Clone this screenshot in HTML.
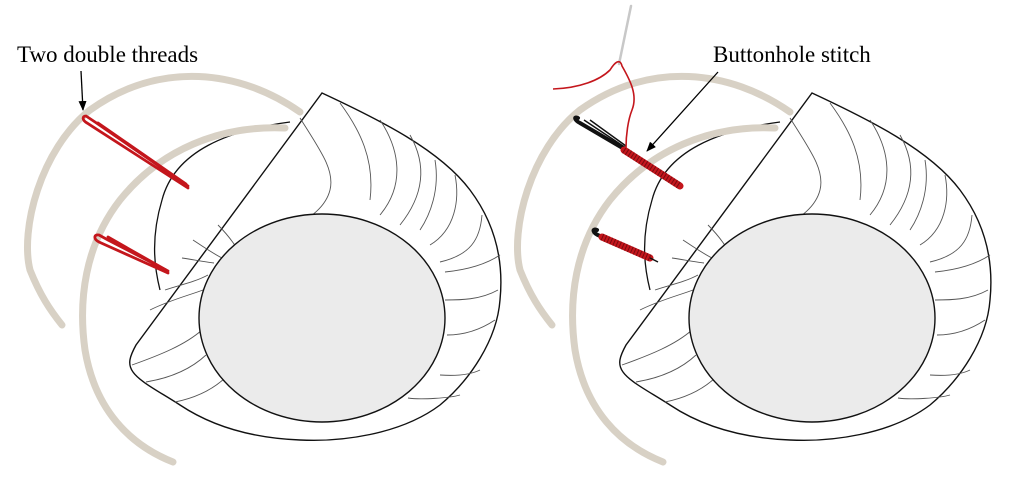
<!DOCTYPE html>
<html><head><meta charset="utf-8"><style>
html,body{margin:0;padding:0;background:#fff;}
svg{display:block;}
text{font-family:"Liberation Serif",serif;font-size:23px;fill:#000;}
</style></head><body>
<svg width="1024" height="496" viewBox="0 0 1024 496" xmlns="http://www.w3.org/2000/svg">
<defs>
<marker id="ah" markerWidth="10" markerHeight="10" refX="9" refY="5" orient="auto" markerUnits="userSpaceOnUse">
<path d="M0,1 L10,5 L0,9 Z" fill="#000"/></marker>
<g id="fig">
  <path d="M290,122 C230,130 175,150 162,200 C150,240 155,270 160,290" fill="#fff" stroke="#111" stroke-width="1.3"/>
  <path d="M300,112 C240,70 160,60 90,110 C40,150 20,230 30,270 C40,295 50,310 62,325" fill="none" stroke="#d8d1c5" stroke-width="7" stroke-linecap="round"/>
  <path d="M285,128 C220,125 160,150 120,200 C85,245 78,300 85,350 C95,410 130,445 173,462" fill="none" stroke="#d8d1c5" stroke-width="7" stroke-linecap="round"/>
  <path d="M322,93 C380,120 440,150 470,190 C500,230 503,270 500,300 C497,340 470,380 440,405 C400,435 340,442 300,440 C250,438 210,425 180,405 C160,392 140,382 133,372 C127,364 130,356 136,345 L322,93 Z" fill="#fff" stroke="#111" stroke-width="1.4"/>
  <g fill="none" stroke="#555" stroke-width="0.9">
    <path d="M300,118 C320,150 335,170 330,190 C325,210 305,220 290,230"/>
    <path d="M340,103 C360,130 375,160 370,200"/>
    <path d="M380,120 C400,150 405,185 380,215"/>
    <path d="M410,135 C430,170 420,200 400,225"/>
    <path d="M435,160 C440,190 430,215 420,230"/>
    <path d="M455,175 C460,200 455,230 430,245"/>
    <path d="M482,215 C480,240 470,255 440,262"/>
    <path d="M500,255 C485,265 465,270 445,272"/>
    <path d="M498,290 C480,300 460,300 445,300"/>
    <path d="M495,320 C480,330 465,335 447,335"/>
    <path d="M480,370 C470,375 455,376 440,375"/>
    <path d="M460,395 C450,398 420,400 408,398"/>
    <path d="M218,225 C228,235 240,250 243,262"/>
    <path d="M193,240 C205,248 215,255 226,260"/>
    <path d="M182,258 C195,260 205,262 214,263"/>
    <path d="M165,290 C180,285 195,282 208,275"/>
    <path d="M150,310 C170,300 190,295 203,290"/>
    <path d="M132,365 C160,355 185,345 202,330"/>
    <path d="M146,382 C170,378 190,370 206,355"/>
    <path d="M175,402 C195,398 212,390 225,378"/>
  </g>
  <ellipse cx="322" cy="318" rx="123" ry="104" fill="#ebebeb" stroke="#111" stroke-width="1.4"/>
</g>
</defs>

<use href="#fig"/>
<use href="#fig" transform="translate(490,0)"/>

<g fill="none" stroke="#c4161c" stroke-width="2.8" stroke-linecap="round">
  <path d="M188,188 L87,123 C82,120 82,116 86,116 L95,122 L188,186"/>
  <path d="M186,184 L98,123"/>
  <path d="M168,273 L99,242 C93,239 94,234 99,235 L108,240 L168,271"/>
  <path d="M166,270 L108,237"/>
</g>

<path d="M626,150 L580,123 C574,120 574,116 578,118" fill="none" stroke="#111" stroke-width="4" stroke-linecap="round"/>
<path d="M626,148 L584,120 M626,146 L590,120" fill="none" stroke="#111" stroke-width="1.5"/>
<path d="M624,150 L680,186" fill="none" stroke="#c4161c" stroke-width="7" stroke-linecap="round"/>
<path d="M624,150 L680,186" fill="none" stroke="#7a0a10" stroke-width="7" stroke-dasharray="1 2.2"/>
<path d="M600,236 C592,233 592,228 597,230" fill="none" stroke="#111" stroke-width="4" stroke-linecap="round"/>
<path d="M602,237 L650,258" fill="none" stroke="#c4161c" stroke-width="7" stroke-linecap="round"/>
<path d="M602,237 L650,258" fill="none" stroke="#7a0a10" stroke-width="7" stroke-dasharray="1 2.2"/>
<path d="M650,258 L658,262" stroke="#111" stroke-width="1.5"/>
<path d="M631,6 L619,64" stroke="#c8c8c8" stroke-width="2.5" stroke-linecap="round"/>
<path d="M553,89 C580,88 600,80 610,70 C615,62 620,58 622,66 C630,80 638,95 632,110 C628,120 626,135 626,148" fill="none" stroke="#c4161c" stroke-width="1.6"/>

<text x="17" y="62">Two double threads</text>
<line x1="81" y1="71" x2="83" y2="110" stroke="#000" stroke-width="1.3" marker-end="url(#ah)"/>
<text x="713" y="62">Buttonhole stitch</text>
<line x1="718" y1="72" x2="647" y2="151" stroke="#000" stroke-width="1.3" marker-end="url(#ah)"/>
</svg>
</body></html>
